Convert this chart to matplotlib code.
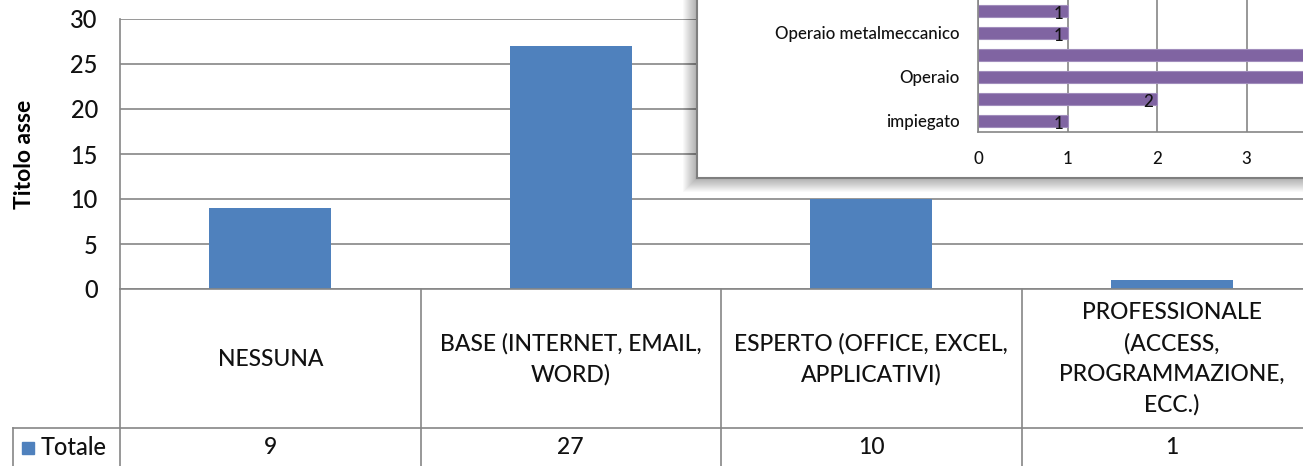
import matplotlib
matplotlib.use("Agg")
import matplotlib.pyplot as plt
from matplotlib.patches import Rectangle
from matplotlib.lines import Line2D

# main chart data
categories = ["NESSUNA",
              "BASE (INTERNET, EMAIL,\nWORD)",
              "ESPERTO (OFFICE, EXCEL,\nAPPLICATIVI)",
              "PROFESSIONALE\n(ACCESS,\nPROGRAMMAZIONE,\nECC.)"]
totale = [9, 27, 10, 1]
series_name = "Totale"
y_ticks = [0, 5, 10, 15, 20, 25, 30]

# inset chart data (bottom to top, only every other label is shown)
job_labels = ["impiegato", "", "Operaio", "", "Operaio metalmeccanico", ""]
job_values = [1, 2, 4, 4, 1, 1]
job_ticks = [0, 1, 2, 3, 4, 5]

W, H = 1303, 466
grey = "#868686"
blue = "#4F81BD"
purple = "#8064A2"


def box(l, t, r, b):
    return [l / W, 1 - b / H, (r - l) / W, (b - t) / H]


plt.rcParams["font.family"] = ["Lato", "DejaVu Sans"]
plt.rcParams["font.weight"] = 500
plt.rcParams["text.color"] = "#111111"

fig = plt.figure(figsize=(W / 100, H / 100), dpi=100)

# ---- main column chart ----
ax = fig.add_axes(box(120, 19, 1322, 289))
xpos = [i + 0.5 for i in range(len(categories))]
ax.bar(xpos, totale, width=0.405, color=blue, zorder=2)
ax.set_xlim(0, len(categories))
ax.set_ylim(0, 30)
ax.set_yticks(y_ticks)
ax.set_xticks([])
ax.yaxis.grid(True, color=grey, lw=1.2)
ax.set_axisbelow(True)
ax.tick_params(axis="y", length=0, pad=16, labelsize=17, labelcolor="#111111")
for s in ["top", "right"]:
    ax.spines[s].set_visible(False)
for s in ["left", "bottom"]:
    ax.spines[s].set_color(grey)
    ax.spines[s].set_linewidth(1.2)
ax.set_ylabel("Titolo asse", fontsize=16.5, fontweight="bold")
ax.yaxis.set_label_coords(-0.071, 0.5)

# ---- data table under the chart ----
trans = ax.get_xaxis_transform()
py = 1 / 270  # axes fraction per pixel
left_x = (13 - 120) / 300.5
for i in range(len(categories) + 1):
    ax.add_line(Line2D([i, i], [0, -250 * py], transform=trans, color=grey,
                       lw=1.2, clip_on=False))
ax.add_line(Line2D([left_x, len(categories) + 1], [-139 * py, -139 * py],
                   transform=trans, color=grey, lw=1.2, clip_on=False))
ax.add_line(Line2D([left_x, left_x], [-139 * py, -250 * py], transform=trans,
                   color=grey, lw=1.2, clip_on=False))
for x, lab, v in zip(xpos, categories, totale):
    ax.text(x, -70 * py, lab, transform=trans, ha="center", va="center",
            fontsize=16.5, linespacing=1.55)
    ax.text(x, -158 * py, str(v), transform=trans, ha="center", va="center",
            fontsize=16.5)
ax.add_patch(Rectangle(((22 - 120) / 300.5, -153 * py), 12 / 300.5, -12 * py,
                       transform=trans, color=blue, clip_on=False))
ax.text((41 - 120) / 300.5, -158 * py, series_name, transform=trans,
        ha="left", va="center", fontsize=17)

# ---- inset chart area with shadow ----
for i in range(1, 15):
    fig.add_artist(Rectangle(((697 - i) / W, 1 - (178 + i) / H),
                             (700 + 2 * i) / W, (300 + i) / H,
                             transform=fig.transFigure, facecolor="black",
                             alpha=0.022, lw=0, zorder=1.5))
frame = fig.add_axes(box(697, -40, 1360, 178), zorder=2)
frame.set_facecolor("white")
frame.set_xticks([])
frame.set_yticks([])
for s in frame.spines.values():
    s.set_color("#7F7F7F")
    s.set_linewidth(1.5)

# inset plot area runs off the right edge of the picture
ins = fig.add_axes(box(978, 0, W, 132), zorder=3)
ins.set_facecolor("none")
ins.barh(job_ticks, job_values, height=0.57, color=purple, edgecolor="#A18DBC",
         lw=0.8, zorder=2)
ins.set_xlim(0, (W - 978) / 89.5)
ins.set_ylim(-0.5, 5.5)
ins.set_xticks([0, 1, 2, 3])
ins.set_yticks(job_ticks)
ins.set_yticklabels(job_labels)
ins.xaxis.grid(True, color=grey, lw=1.2)
ins.set_axisbelow(True)
ins.tick_params(axis="both", length=0, labelsize=12.2, labelcolor="#111111")
ins.tick_params(axis="x", pad=14)
ins.tick_params(axis="y", pad=13)
for s in ["top", "right"]:
    ins.spines[s].set_visible(False)
for s in ["left", "bottom"]:
    ins.spines[s].set_color(grey)
    ins.spines[s].set_linewidth(1.2)
for i, v in zip(job_ticks, job_values):
    ins.annotate(str(v), (v, i), xytext=(-3, -2), textcoords="offset points",
                 ha="right", va="center", fontsize=12.2)

fig.savefig("out.png", dpi=100)
plt.close()
